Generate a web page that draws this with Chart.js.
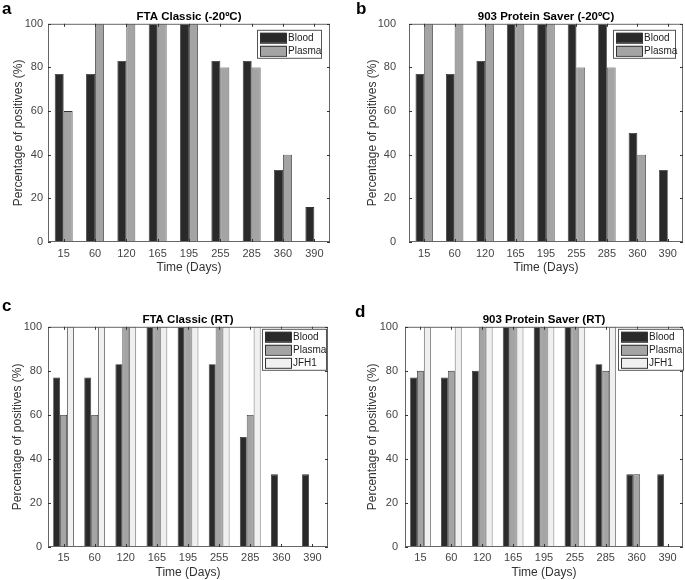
<!DOCTYPE html>
<html>
<head>
<meta charset="utf-8">
<script src="https://cdn.jsdelivr.net/npm/chart.js@4.4.0/dist/chart.umd.min.js"></script>
<style>
  body { margin: 0; background: #fff; }
  #wrap { position: relative; width: 685px; height: 580px; }
  .panel { position: absolute; }
  .tag { position: absolute; font: bold 17px "Liberation Sans", Arial, sans-serif; color: #000; }
</style>
</head>
<body>
<div id="wrap">
  <div class="panel" style="left:0;top:0;width:342px;height:290px"><canvas id="chartA"></canvas></div>
  <div class="panel" style="left:342px;top:0;width:343px;height:290px"><canvas id="chartB"></canvas></div>
  <div class="panel" style="left:0;top:290px;width:342px;height:290px"><canvas id="chartC"></canvas></div>
  <div class="panel" style="left:342px;top:290px;width:343px;height:290px"><canvas id="chartD"></canvas></div>
  <div class="tag" style="left:2px;top:-1px">a</div>
  <div class="tag" style="left:356px;top:-1px">b</div>
  <div class="tag" style="left:2px;top:296px">c</div>
  <div class="tag" style="left:355px;top:302px">d</div>
</div>
<script>
// Datos
const days = ['15', '60', '120', '165', '195', '255', '285', '360', '390'];
const yTicks = [0, 20, 40, 60, 80, 100];

const ftaColdBlood  = [77, 77, 83, 100, 100, 83, 83, 33, 16];
const ftaColdPlasma = [60, 100, 100, 100, 100, 80, 80, 40, 0];

const psColdBlood  = [77, 77, 83, 100, 100, 100, 100, 50, 33];
const psColdPlasma = [100, 100, 100, 100, 100, 80, 80, 40, 0];

const ftaRtBlood  = [77, 77, 83, 100, 100, 83, 50, 33, 33];
const ftaRtPlasma = [60, 60, 100, 100, 100, 100, 60, 0, 0];
const ftaRtJfh1   = [100, 100, 100, 100, 100, 100, 100, 0, 0];

const psRtBlood  = [77, 77, 80, 100, 100, 100, 83, 33, 33];
const psRtPlasma = [80, 80, 100, 100, 100, 100, 80, 33, 0];
const psRtJfh1   = [100, 100, 100, 100, 100, 100, 100, 0, 0];

const colors = { Blood: '#2a2a2a', Plasma: '#a4a4a4', JFH1: '#f0f0f0' };
const FONT = '"Liberation Sans", Arial, sans-serif';

// Caja, ticks hacia dentro y leyenda dentro del área (estilo MATLAB)
const boxPlugin = {
  id: 'matlabBox',
  afterDatasetsDraw(chart, args, opts) {
    const { ctx, chartArea: a, scales } = chart;
    ctx.save();
    ctx.strokeStyle = '#666';
    ctx.lineWidth = 1;
    ctx.strokeRect(a.left + 0.5, a.top + 0.5, a.right - a.left - 1, a.bottom - a.top - 1);
    ctx.strokeStyle = '#333';
    ctx.beginPath();
    days.forEach((d, i) => {
      const x = Math.round(scales.x.getPixelForValue(i)) + 0.5;
      ctx.moveTo(x, a.bottom); ctx.lineTo(x, a.bottom - 3);
      ctx.moveTo(x, a.top); ctx.lineTo(x, a.top + 3);
    });
    yTicks.forEach(v => {
      const y = Math.round(scales.y.getPixelForValue(v)) + 0.5;
      ctx.moveTo(a.left, y); ctx.lineTo(a.left + 3, y);
      ctx.moveTo(a.right, y); ctx.lineTo(a.right - 3, y);
    });
    ctx.stroke();

    // leyenda
    const sets = chart.data.datasets;
    const rowH = 13;
    const w = opts.width, h = sets.length * rowH + 2;
    const x0 = a.right - opts.right - w, y0 = a.top + opts.top;
    ctx.fillStyle = '#fff';
    ctx.fillRect(x0, y0, w, h);
    ctx.strokeStyle = '#555';
    ctx.strokeRect(x0 + 0.5, y0 + 0.5, w, h);
    ctx.font = '10px ' + FONT;
    ctx.textBaseline = 'middle';
    sets.forEach((s, i) => {
      const yy = y0 + 2 + i * rowH;
      ctx.fillStyle = s.backgroundColor;
      ctx.fillRect(x0 + 3, yy + 1, 26, 10);
      ctx.strokeStyle = '#333';
      ctx.strokeRect(x0 + 3.5, yy + 1.5, 26, 10);
      ctx.fillStyle = '#222';
      ctx.fillText(s.label, x0 + 31, yy + 6.5);
    });
    ctx.restore();
  }
};

function makeChart(id, title, series, lay) {
  const n = series.length;
  const datasets = series.map(([label, data]) => ({
    label,
    data,
    backgroundColor: colors[label],
    borderColor: '#333',
    borderWidth: 0.8,
    barPercentage: 1,
    categoryPercentage: n / (n + 1.5)
  }));

  return new Chart(document.getElementById(id), {
    type: 'bar',
    data: { labels: days, datasets },
    options: {
      responsive: true,
      maintainAspectRatio: false,
      animation: false,
      layout: { padding: { left: 0, right: lay.right, top: 0, bottom: 0 } },
      plugins: {
        legend: { display: false },
        tooltip: { enabled: false },
        title: {
          display: true,
          fullSize: false,
          text: title,
          color: '#000',
          font: { family: FONT, size: 11.5, weight: 'bold' },
          padding: { top: lay.titleTop, bottom: lay.titleBottom }
        },
        matlabBox: lay.legend
      },
      scales: {
        x: {
          grid: { display: false, drawTicks: false },
          border: { display: false },
          ticks: { color: '#444', font: { family: FONT, size: 11 }, padding: lay.xPad, maxRotation: 0 },
          title: { display: true, text: 'Time (Days)', color: '#333', font: { family: FONT, size: 12 }, padding: { top: 0, bottom: lay.xTitleBottom } },
          afterFit: s => { s.height = lay.xHeight; }
        },
        y: {
          min: 0,
          max: 100,
          grid: { display: false, drawTicks: false },
          border: { display: false },
          ticks: { stepSize: 20, color: '#444', font: { family: FONT, size: 11 }, padding: lay.yPad },
          title: { display: true, text: 'Percentage of positives (%)', color: '#333', font: { family: FONT, size: 12 }, padding: { top: lay.yTitleLeft, bottom: 0 } },
          afterFit: s => { s.width = lay.yWidth; }
        }
      }
    },
    plugins: [boxPlugin]
  });
}

makeChart('chartA', 'FTA Classic (-20ºC)',
  [['Blood', ftaColdBlood], ['Plasma', ftaColdPlasma]],
  { right: 12, titleTop: 10, titleBottom: 0, xHeight: 48, xPad: 5, xTitleBottom: 15, yWidth: 48, yPad: 5, yTitleLeft: 11,
    legend: { width: 64, right: 9, top: 6 } });

makeChart('chartB', '903 Protein Saver (-20ºC)',
  [['Blood', psColdBlood], ['Plasma', psColdPlasma]],
  { right: 2, titleTop: 10, titleBottom: 0, xHeight: 48, xPad: 5, xTitleBottom: 15, yWidth: 67, yPad: 13, yTitleLeft: 23,
    legend: { width: 62, right: 8, top: 6 } });

makeChart('chartC', 'FTA Classic (RT)',
  [['Blood', ftaRtBlood], ['Plasma', ftaRtPlasma], ['JFH1', ftaRtJfh1]],
  { right: 14, titleTop: 23, titleBottom: 0, xHeight: 33, xPad: 4, xTitleBottom: 0, yWidth: 48, yPad: 6, yTitleLeft: 10,
    legend: { width: 64, right: 2, top: 2 } });

makeChart('chartD', '903 Protein Saver (RT)',
  [['Blood', psRtBlood], ['Plasma', psRtPlasma], ['JFH1', psRtJfh1]],
  { right: 2, titleTop: 23, titleBottom: 0, xHeight: 33, xPad: 4, xTitleBottom: 0, yWidth: 63, yPad: 7, yTitleLeft: 23,
    legend: { width: 65, right: 0, top: 2 } });
</script>
</body>
</html>
